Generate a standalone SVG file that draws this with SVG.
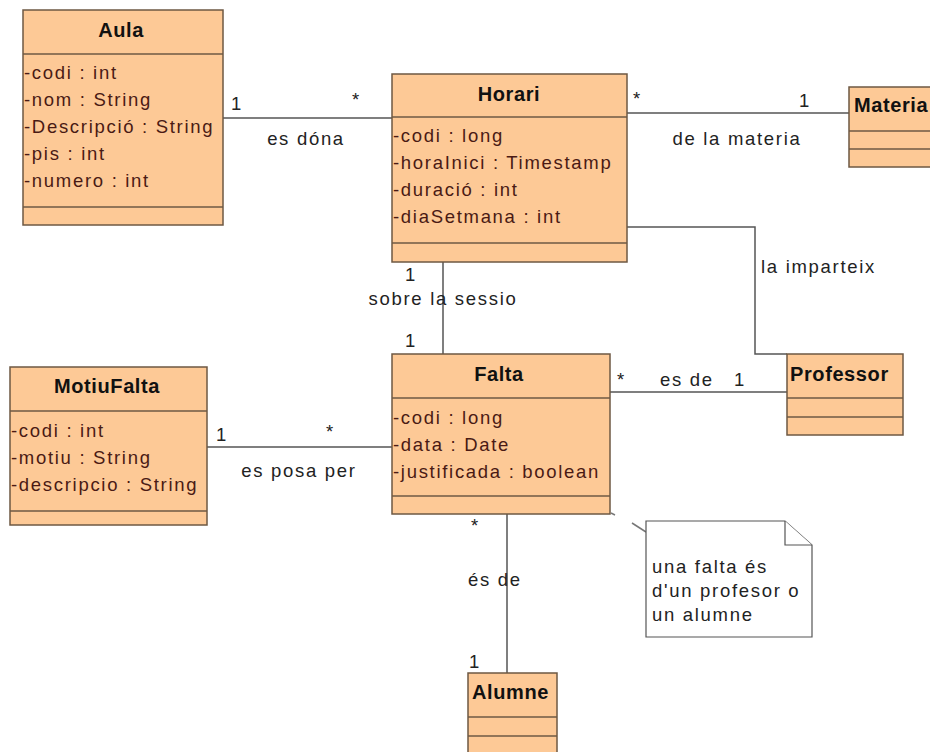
<svg xmlns="http://www.w3.org/2000/svg" width="930" height="752" viewBox="0 0 930 752">
  <style>
    .box { fill: #fdc996; stroke: #6e5843; stroke-width: 1.5; }
    .sep { stroke: #6e5843; stroke-width: 1.5; fill: none; }
    .title { font-family: "Liberation Sans", Arial, sans-serif; font-size: 20px; font-weight: bold; fill: #111; letter-spacing: 0.6px; }
    .attr { font-family: "Liberation Sans", Arial, sans-serif; font-size: 18.5px; fill: #4a1a14; letter-spacing: 1.7px; }
    .lbl { font-family: "Liberation Sans", Arial, sans-serif; font-size: 18.5px; fill: #222; letter-spacing: 1.7px; }
    .edge { stroke: #555; stroke-width: 1.5; fill: none; }
    .anchor { stroke: #777; stroke-width: 1.5; fill: none; }
    .note { fill: #fff; stroke: #555; stroke-width: 1.2; }
    .mid { text-anchor: middle; }
  </style>
  <rect width="930" height="752" fill="#fff"/>

  <!-- associations -->
  <g id="connectors">
    <line class="edge" x1="223" y1="118" x2="392" y2="118"/>
    <line class="edge" x1="627" y1="113" x2="849" y2="113"/>
    <polyline class="edge" points="627,227 755,227 755,354 787,354"/>
    <line class="edge" x1="443" y1="262" x2="443" y2="354"/>
    <line class="edge" x1="610" y1="392" x2="787" y2="392"/>
    <line class="edge" x1="207" y1="447" x2="392" y2="447"/>
    <line class="edge" x1="507" y1="514" x2="507" y2="673"/>
    <!-- note anchor (broken line) -->
    <line class="anchor" x1="611" y1="513" x2="615" y2="515"/>
    <line class="anchor" x1="632" y1="523" x2="646" y2="532"/>

    <text class="lbl" x="231" y="110">1</text>
    <text class="lbl" x="352" y="106">*</text>
    <text class="lbl mid" x="306" y="145">es dóna</text>

    <text class="lbl" x="633" y="105">*</text>
    <text class="lbl" x="799" y="107">1</text>
    <text class="lbl mid" x="737" y="145">de la materia</text>

    <text class="lbl" x="761" y="273">la imparteix</text>

    <text class="lbl" x="405" y="281">1</text>
    <text class="lbl mid" x="443" y="305">sobre la sessio</text>
    <text class="lbl" x="405" y="347">1</text>

    <text class="lbl" x="617" y="386">*</text>
    <text class="lbl" x="660" y="386">es de</text>
    <text class="lbl" x="734" y="386">1</text>

    <text class="lbl" x="216" y="441">1</text>
    <text class="lbl" x="326" y="438">*</text>
    <text class="lbl mid" x="299" y="477">es posa per</text>

    <text class="lbl" x="471" y="532">*</text>
    <text class="lbl" x="468" y="586">és de</text>
    <text class="lbl" x="469" y="668">1</text>
  </g>

  <g id="Aula">
    <rect class="box" x="23" y="10" width="200" height="215"/>
    <line class="sep" x1="23" y1="54" x2="223" y2="54"/>
    <line class="sep" x1="23" y1="207" x2="223" y2="207"/>
    <text class="title mid" x="121" y="37">Aula</text>
    <text class="attr" x="24" y="79">-codi : int</text>
    <text class="attr" x="24" y="106">-nom : String</text>
    <text class="attr" x="24" y="133">-Descripció : String</text>
    <text class="attr" x="24" y="160">-pis : int</text>
    <text class="attr" x="24" y="187">-numero : int</text>
  </g>

  <g id="Horari">
    <rect class="box" x="392" y="74" width="235" height="188"/>
    <line class="sep" x1="392" y1="117" x2="627" y2="117"/>
    <line class="sep" x1="392" y1="243" x2="627" y2="243"/>
    <text class="title mid" x="509" y="101">Horari</text>
    <text class="attr" x="393" y="142">-codi : long</text>
    <text class="attr" x="393" y="169">-horaInici : Timestamp</text>
    <text class="attr" x="393" y="196">-duració : int</text>
    <text class="attr" x="393" y="223">-diaSetmana : int</text>
  </g>

  <g id="Materia">
    <rect class="box" x="849" y="87" width="100" height="80"/>
    <line class="sep" x1="849" y1="131" x2="949" y2="131"/>
    <line class="sep" x1="849" y1="149" x2="949" y2="149"/>
    <text class="title" x="854" y="112">Materia</text>
  </g>

  <g id="Professor">
    <rect class="box" x="787" y="354" width="116" height="81"/>
    <line class="sep" x1="787" y1="398" x2="903" y2="398"/>
    <line class="sep" x1="787" y1="417" x2="903" y2="417"/>
    <text class="title" x="790" y="381">Professor</text>
  </g>

  <g id="Falta">
    <rect class="box" x="392" y="354" width="218" height="160"/>
    <line class="sep" x1="392" y1="398" x2="610" y2="398"/>
    <line class="sep" x1="392" y1="496" x2="610" y2="496"/>
    <text class="title mid" x="499" y="381">Falta</text>
    <text class="attr" x="393" y="424">-codi : long</text>
    <text class="attr" x="393" y="451">-data : Date</text>
    <text class="attr" x="393" y="478">-justificada : boolean</text>
  </g>

  <g id="MotiuFalta">
    <rect class="box" x="10" y="367" width="197" height="158"/>
    <line class="sep" x1="10" y1="411" x2="207" y2="411"/>
    <line class="sep" x1="10" y1="511" x2="207" y2="511"/>
    <text class="title mid" x="107" y="393">MotiuFalta</text>
    <text class="attr" x="11" y="437">-codi : int</text>
    <text class="attr" x="11" y="464">-motiu : String</text>
    <text class="attr" x="11" y="491">-descripcio : String</text>
  </g>

  <g id="Alumne">
    <rect class="box" x="468" y="673" width="89" height="90"/>
    <line class="sep" x1="468" y1="717" x2="557" y2="717"/>
    <line class="sep" x1="468" y1="736" x2="557" y2="736"/>
    <text class="title" x="472" y="699">Alumne</text>
  </g>

  <g id="note">
    <path class="note" d="M646,521 H785 L812,545 V637 H646 Z"/>
    <path class="note" d="M785,521 V545 H812" fill="none"/>
    <text class="lbl" x="652" y="573">una falta és</text>
    <text class="lbl" x="652" y="597">d'un profesor o</text>
    <text class="lbl" x="652" y="621">un alumne</text>
  </g>
</svg>
